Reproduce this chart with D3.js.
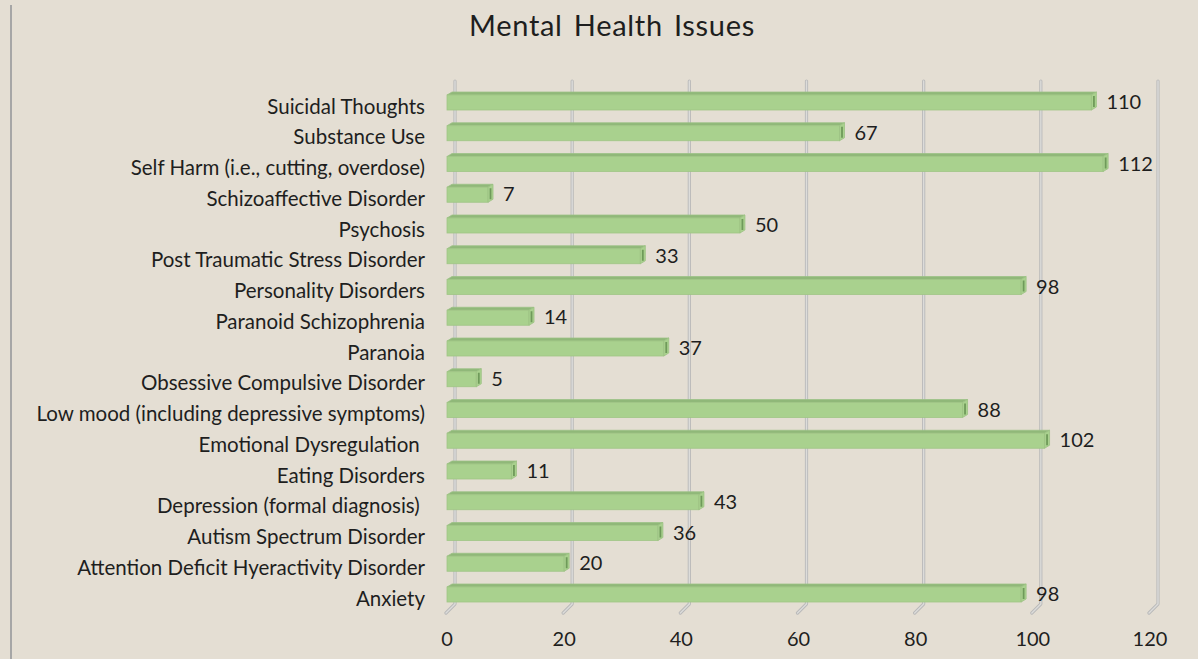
<!DOCTYPE html>
<html>
<head>
<meta charset="utf-8">
<script src="https://cdn.jsdelivr.net/npm/d3@7"></script>
<style>
  html, body { margin: 0; padding: 0; background: #E4DED3; }
  svg { display: block; }
  text { font-family: Lato, "Open Sans", sans-serif; fill: #1e1e1e; }
</style>
</head>
<body>
<svg id="chart" width="1198" height="659"></svg>
<script>
// Issue categories, listed top to bottom as drawn
const categories = [
  "Suicidal Thoughts",
  "Substance Use",
  "Self Harm (i.e., cutting, overdose)",
  "Schizoaffective Disorder",
  "Psychosis",
  "Post Traumatic Stress Disorder",
  "Personality Disorders",
  "Paranoid Schizophrenia",
  "Paranoia",
  "Obsessive Compulsive Disorder",
  "Low mood (including depressive symptoms)",
  "Emotional Dysregulation ",
  "Eating Disorders",
  "Depression (formal diagnosis) ",
  "Autism Spectrum Disorder",
  "Attention Deficit Hyeractivity Disorder",
  "Anxiety"
];
const counts = [110, 67, 112, 7, 50, 33, 98, 14, 37, 5, 88, 102, 11, 43, 36, 20, 98];
const tickValues = [0, 20, 40, 60, 80, 100, 120];
const title = "Mental Health Issues";

const svg = d3.select("#chart");

// Frame line on the left edge
svg.append("line")
  .attr("x1", 11).attr("x2", 11).attr("y1", 5).attr("y2", 659)
  .attr("stroke", "#A6A6A6").attr("stroke-width", 2);

// Title
svg.append("text")
  .attr("x", 612).attr("y", 36)
  .attr("text-anchor", "middle")
  .style("font-size", "29px")
  .style("letter-spacing", "0.7px")
  .style("word-spacing", "3px")
  .text(title);

// Scales: front face of the bars and depth offset of the back wall
const x = d3.scaleLinear().domain([0, 120]).range([447, 1150]);
const y = d3.scalePoint().domain(categories).range([102.5, 594.5]);
const wallDx = 8, wallDy = -9;   // back wall offset from the front floor edge
const floorY = 613;
const wallTop = 81;

// Gridlines on the back wall, bending onto the floor
const grid = svg.append("g");
tickValues.forEach(v => {
  const fx = x(v) - 1;
  const path = `M${fx + wallDx + 1},${wallTop} L${fx + wallDx + 1},${floorY + wallDy} L${fx},${floorY}`;
  grid.append("path").attr("d", path)
    .attr("fill", "none").attr("stroke", "#B9B9B9").attr("stroke-width", 3.2)
    .attr("stroke-linecap", "round").attr("stroke-linejoin", "round");
  grid.append("path").attr("d", path)
    .attr("fill", "none").attr("stroke", "#DCDCDA").attr("stroke-width", 1.4)
    .attr("stroke-linecap", "round").attr("stroke-linejoin", "round");
});

// 3D bars: front face, top face and right end face
const barH = 15, dx = 5, dy = -3;
const bars = svg.append("g");
categories.forEach((c, i) => {
  const v = counts[i];
  const x0 = x(0), x1 = x(v);
  const yt = y(c) - 7.5, yb = yt + barH;
  const g = bars.append("g");
  // top face
  g.append("path")
    .attr("d", `M${x0},${yt} L${x0 + dx},${yt + dy} L${x1 + dx},${yt + dy} L${x1},${yt} Z`)
    .attr("fill", "#90B879").attr("stroke", "#9CC286").attr("stroke-width", 0.8);
  // front face
  g.append("rect")
    .attr("x", x0).attr("y", yt).attr("width", x1 - x0).attr("height", barH)
    .attr("fill", "#A9D18E").attr("stroke", "#A0C586").attr("stroke-width", 0.8);
  // end face
  g.append("path")
    .attr("d", `M${x1},${yt} L${x1 + dx},${yt + dy} L${x1 + dx},${yb + dy} L${x1},${yb} Z`)
    .attr("fill", "#A9D18E").attr("stroke", "#9CC283").attr("stroke-width", 0.8);
  g.append("line")
    .attr("x1", x1 + 2.5).attr("x2", x1 + 2.5).attr("y1", yt + dy + 4).attr("y2", yb - 3)
    .attr("stroke", "#6F9A5A").attr("stroke-width", 1.8);
  // value label
  svg.append("text")
    .attr("x", x1 + dx + 10).attr("y", y(c) + 1.5)
    .attr("dominant-baseline", "middle")
    .style("font-size", "20px")
    .text(v);
});

// Category labels
svg.append("g").selectAll("text")
  .data(categories)
  .join("text")
  .attr("x", 425).attr("y", d => y(d) + 6)
  .attr("text-anchor", "end")
  .attr("dominant-baseline", "middle")
  .style("font-size", "20.5px")
  .style("white-space", "pre")
  .text(d => d);

// Value axis tick labels
svg.append("g").selectAll("text")
  .data(tickValues)
  .join("text")
  .attr("x", d => x(d))
  .attr("y", 641)
  .attr("text-anchor", "middle")
  .attr("dominant-baseline", "middle")
  .style("font-size", "20px")
  .text(d => d);
</script>
</body>
</html>
